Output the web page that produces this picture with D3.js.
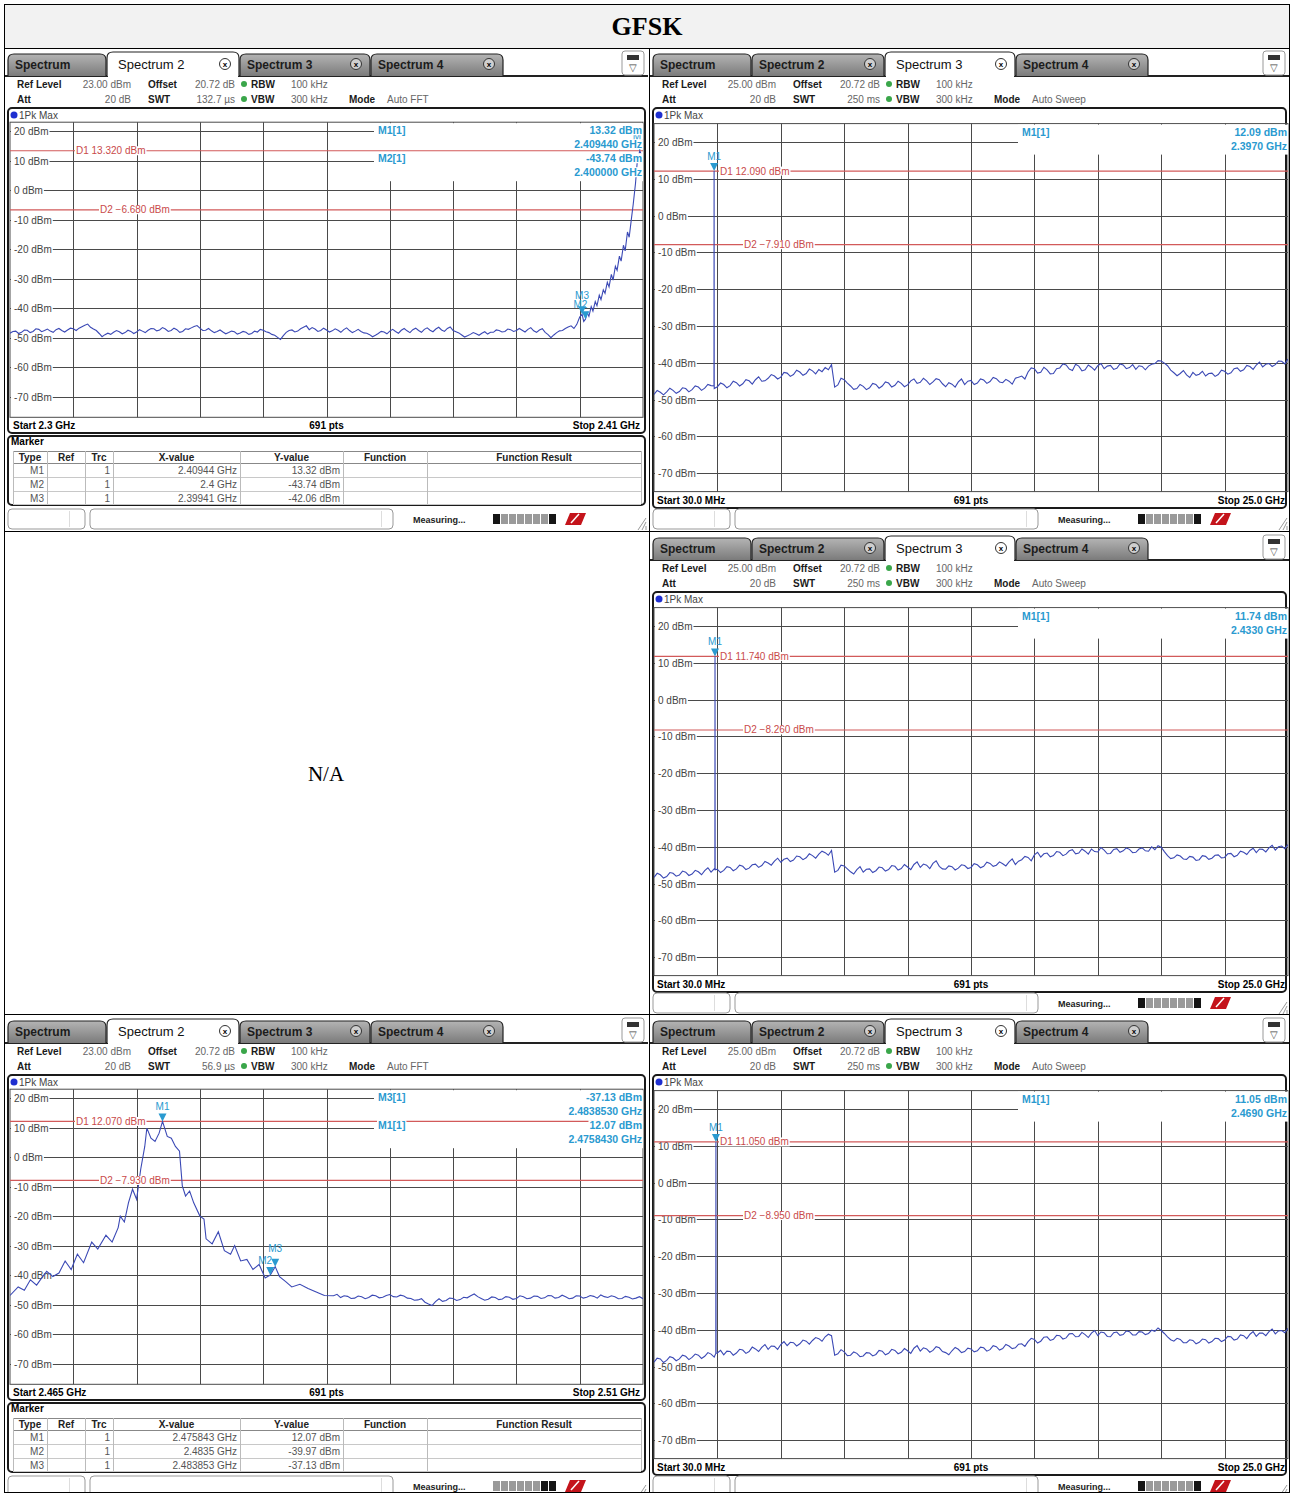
<!DOCTYPE html>
<html>
<head>
<meta charset="utf-8">
<script src="https://cdn.jsdelivr.net/npm/d3@7"></script>
<style>
  body { margin: 0; background: #fff; }
  svg text { font-family: "Liberation Sans", Arial, sans-serif; }
</style>
</head>
<body>
<svg id="chart"></svg>
<script>
// ---------- data ----------
const pageTitle = "GFSK";
const naText = "N/A";
const tabNames = ["Spectrum", "Spectrum 2", "Spectrum 3", "Spectrum 4"];
const yTicks = [20, 10, 0, -10, -20, -30, -40, -50, -60, -70];
const tableCols = ["Type", "Ref", "Trc", "X-value", "Y-value", "Function", "Function Result"];

// low band edge, 2.3 - 2.41 GHz
const lowFloorStart = 2.300, lowFloorStep = 0.0005;
const lowFloor = [-48.5, -47.9, -47.8, -48.6, -48.2, -47.4, -47.5, -48.3, -47.9, -47.0,
  -47.2, -48.0, -47.6, -47.1, -47.8, -48.2, -47.3, -46.9, -47.6, -48.1,
  -47.4, -46.8, -47.0, -47.6, -46.8, -46.3, -45.8, -45.4, -46.5, -47.1,
  -47.6, -48.6, -49.7, -49.0, -48.5, -48.9, -48.2, -47.6, -48.0, -48.7,
  -48.3, -47.5, -47.9, -48.6, -48.1, -47.3, -47.8, -48.3, -47.5, -46.9,
  -47.0, -47.7, -47.4, -46.6, -47.1, -47.9, -47.6, -46.8, -47.3, -48.2,
  -47.9, -47.0, -47.2, -46.7, -46.2, -45.9, -46.8, -47.6, -47.5, -46.9,
  -47.7, -48.3, -47.9, -47.4, -48.1, -48.7, -48.3, -47.8, -48.0, -48.8,
  -48.4, -47.9, -48.2, -48.9, -48.6, -47.8, -48.1, -47.2, -47.5, -48.0,
  -48.3, -48.9, -49.2, -49.9, -50.6, -49.3, -48.2, -47.6, -47.4, -48.1,
  -47.8, -47.0, -46.5, -46.0, -47.3, -46.6, -47.1, -47.9, -47.6, -46.8,
  -47.4, -48.1, -47.7, -47.0, -47.5, -48.2, -47.3, -46.7, -47.6, -48.3,
  -47.8, -47.2, -47.9, -48.4, -48.5, -49.0, -49.7, -49.2, -48.6, -47.9,
  -48.1, -48.7, -47.8, -47.2, -47.9, -48.5, -47.5, -46.9, -47.7, -48.3,
  -47.3, -46.8, -47.6, -48.2, -47.2, -46.7, -47.5, -48.0, -47.1, -46.5,
  -47.4, -47.9, -46.9, -46.4, -47.6, -48.0, -48.4, -49.1, -49.8, -49.4,
  -48.9, -48.3, -48.7, -49.2, -48.5, -48.0, -48.8, -48.2, -48.2, -47.4,
  -47.6, -48.1, -47.9, -47.1, -47.3, -47.9, -47.6, -46.9, -47.5, -48.1,
  -47.2, -46.6, -47.7, -48.2, -47.4, -47.0, -48.2, -49.0, -50.0, -49.1,
  -48.3, -47.7, -47.6, -46.9, -46.4, -46.0, -46.9];
const lowRise = [[2.3985, -45.5], [2.399, -43.0], [2.39941, -42.06], [2.3997, -44.5], [2.400, -43.74],
  [2.4003, -41.5], [2.4006, -42.8], [2.401, -39.5], [2.4013, -41.0], [2.4017, -37.8], [2.402, -39.2],
  [2.4024, -35.6], [2.4027, -37.1], [2.4031, -33.8], [2.4034, -35.0], [2.4038, -31.2], [2.4041, -32.8],
  [2.4045, -28.6], [2.4048, -30.5], [2.4052, -25.8], [2.4055, -27.2], [2.4059, -22.4], [2.4062, -24.1],
  [2.4066, -18.7], [2.4069, -20.6], [2.4073, -14.2], [2.4076, -16.0], [2.408, -9.5], [2.4083, -4.8],
  [2.4087, 2.3], [2.409, 9.6], [2.40944, 13.32], [2.4097, 12.1], [2.41, 10.4]];
const lowMarkers = [["M1", 2.40944, 13.32], ["M2", 2.4, -43.74], ["M3", 2.39941, -42.06]];
const lowInfo = [["M1[1]", "13.32 dBm", "2.409440 GHz"], ["M2[1]", "-43.74 dBm", "2.400000 GHz"]];
const lowTable = [["M1", "", "1", "2.40944 GHz", "13.32 dBm"], ["M2", "", "1", "2.4 GHz", "-43.74 dBm"],
  ["M3", "", "1", "2.39941 GHz", "-42.06 dBm"]];

// high band edge, 2.465 - 2.51 GHz
const highChannel = [[2.46500, -46.9], [2.46558, -44.0], [2.46602, -45.1], [2.46645, -41.6], [2.46689, -43.4],
  [2.46732, -40.5], [2.46761, -38.7], [2.46805, -40.5], [2.46848, -39.3], [2.46892, -35.2], [2.46935, -38.1],
  [2.46979, -32.9], [2.47023, -35.8], [2.47081, -28.8], [2.47124, -31.2], [2.47182, -26.5], [2.47226, -28.8],
  [2.47269, -23.9], [2.47284, -20.0], [2.47313, -22.0], [2.47342, -15.5], [2.47371, -10.9], [2.47400, -14.3],
  [2.47429, -4.2], [2.47458, 3.6], [2.47473, 9.8], [2.47502, 6.4], [2.47531, 5.3], [2.47560, 8.1],
  [2.475843, 12.07], [2.47618, 7.0], [2.47647, 6.4], [2.47676, 3.6], [2.47705, 2.0], [2.47725, -9.8],
  [2.47748, -13.2], [2.47777, -11.5], [2.47806, -15.5], [2.47850, -20.0], [2.47879, -21.0], [2.47894, -27.7],
  [2.47937, -29.4], [2.47981, -25.3], [2.48024, -31.7], [2.48068, -32.9], [2.48097, -30.0], [2.48140, -35.2],
  [2.48184, -34.7], [2.48227, -38.1], [2.48271, -36.4], [2.48314, -41.0], [2.4835, -39.97], [2.483853, -37.13],
  [2.48416, -40.5], [2.48460, -42.2], [2.48503, -44.0], [2.48561, -43.1], [2.48619, -44.5], [2.48677, -45.7],
  [2.48735, -46.9]];
const highFloorStart = 2.488, highFloorStep = 0.00025;
const highFloor = [-47.0, -46.5, -47.6, -47.0, -47.2, -47.9, -47.8, -47.1, -47.3, -48.0,
  -47.6, -46.8, -47.0, -47.7, -47.5, -46.9, -46.6, -47.3, -47.4, -46.8,
  -47.1, -47.8, -47.9, -48.5, -48.4, -48.0, -49.2, -49.8, -50.3, -49.0,
  -48.0, -48.9, -48.6, -47.8, -47.9, -48.6, -48.3, -47.5, -47.7, -47.0,
  -46.4, -47.3, -47.9, -48.5, -48.2, -47.4, -47.6, -48.3, -48.1, -47.3,
  -47.5, -48.2, -47.9, -47.0, -47.3, -48.0, -47.8, -47.1, -47.2, -47.9,
  -47.7, -46.9, -47.0, -47.8, -47.6, -46.8, -47.3, -48.0, -47.8, -47.0,
  -47.1, -47.8, -47.5, -46.9, -47.2, -47.8, -46.7, -47.3, -47.6, -47.0,
  -47.3, -48.0, -47.9, -47.2, -47.5, -48.1, -47.8, -47.3, -48.0];
const highMarkers = [["M1", 2.475843, 12.07], ["M2", 2.4835, -39.97], ["M3", 2.483853, -37.13]];
const highInfo = [["M3[1]", "-37.13 dBm", "2.4838530 GHz"], ["M1[1]", "12.07 dBm", "2.4758430 GHz"]];
const highTable = [["M1", "", "1", "2.475843 GHz", "12.07 dBm"], ["M2", "", "1", "2.4835 GHz", "-39.97 dBm"],
  ["M3", "", "1", "2.483853 GHz", "-37.13 dBm"]];

// spurious sweeps, 30 MHz - 25 GHz, 201 samples each
const sweepStart = 0.03, sweepStep = 0.12485;
const sweepLow = [-48.6, -47.5, -48.0, -48.7, -47.9, -46.9, -47.5, -48.3, -47.8, -46.8,
  -47.0, -47.9, -47.3, -46.3, -46.6, -47.5, -46.9, -45.9, -46.2, -47.0,
  -46.5, -45.5, -45.9, -46.8, -46.2, -45.0, -45.4, -46.3, -45.7, -44.6,
  -44.9, -45.8, -44.6, -43.8, -45.0, -44.9, -44.2, -43.2, -43.6, -44.4,
  -43.9, -42.6, -42.8, -43.7, -43.2, -42.0, -42.5, -43.4, -42.9, -41.7,
  -42.2, -43.0, -41.8, -42.4, -41.3, -41.9, -40.5, -46.6, -46.0, -44.2,
  -44.6, -45.5, -46.3, -47.2, -47.0, -45.9, -46.4, -47.3, -46.8, -45.6,
  -45.9, -46.9, -46.3, -45.2, -45.5, -46.6, -46.1, -45.0, -45.6, -46.5,
  -46.0, -44.9, -44.4, -45.6, -45.3, -44.2, -44.9, -45.9, -45.2, -44.3,
  -44.6, -45.7, -46.5, -45.4, -45.8, -46.6, -45.2, -44.4, -45.9, -45.0,
  -44.8, -45.9, -45.5, -44.4, -44.7, -45.6, -45.1, -44.0, -44.3, -45.2,
  -45.4, -44.5, -45.0, -45.8, -44.2, -43.9, -43.6, -44.4, -42.5, -41.4,
  -41.6, -42.8, -42.6, -41.2, -41.9, -43.0, -42.9, -41.6, -41.4, -40.3,
  -40.6, -41.7, -42.1, -40.4, -40.9, -42.2, -41.9, -40.6, -41.2, -42.0,
  -40.8, -40.2, -41.6, -40.9, -40.7, -41.8, -41.5, -40.3, -40.6, -41.6,
  -41.3, -40.5, -41.8, -40.8, -41.0, -41.9, -40.9, -40.4, -40.2, -39.4,
  -39.5, -40.1, -40.8, -42.0, -42.7, -43.5, -42.9, -42.1, -43.3, -44.0,
  -42.6, -43.4, -43.1, -42.3, -43.6, -42.9, -42.8, -43.7, -43.2, -42.0,
  -42.3, -43.1, -42.7, -41.6, -41.4, -42.3, -41.9, -40.7, -41.0, -41.8,
  -40.6, -39.8, -41.1, -40.4, -40.2, -41.0, -40.5, -39.5, -39.6, -40.3,
  -39.0];
const sweepMid = [-48.3, -47.2, -47.6, -48.5, -48.1, -47.0, -47.2, -48.0, -47.7, -46.6,
  -46.9, -47.8, -47.4, -46.4, -46.8, -47.6, -46.5, -45.7, -46.9, -46.0,
  -46.1, -47.0, -46.4, -45.4, -45.6, -46.5, -46.0, -45.0, -45.3, -46.2,
  -45.8, -44.9, -44.7, -45.6, -45.1, -44.0, -44.4, -45.0, -43.9, -43.1,
  -44.2, -43.4, -43.1, -44.0, -43.6, -42.5, -42.7, -43.5, -43.0, -41.9,
  -42.4, -43.1, -42.0, -41.2, -41.6, -42.3, -41.0, -46.9, -46.4, -45.0,
  -45.2, -46.0, -46.8, -47.4, -46.2, -45.4, -46.9, -46.1, -46.0, -47.0,
  -46.5, -45.5, -45.7, -46.6, -46.2, -45.1, -45.3, -46.3, -45.9, -44.8,
  -45.5, -46.2, -44.8, -44.1, -45.6, -44.7, -45.0, -45.9, -44.5, -43.8,
  -45.3, -46.0, -46.1, -45.2, -45.4, -46.3, -45.8, -44.9, -45.1, -45.9,
  -45.6, -44.6, -44.9, -45.7, -45.3, -44.2, -44.5, -45.3, -45.0, -44.1,
  -44.6, -45.2, -44.1, -43.3, -44.8, -43.9, -43.5, -42.6, -42.9, -43.8,
  -42.2, -41.5, -42.8, -41.9, -41.7, -42.7, -42.4, -41.3, -41.5, -42.4,
  -42.0, -41.1, -40.8, -41.9, -41.7, -40.6, -41.2, -42.0, -40.6, -41.3,
  -41.4, -40.2, -40.9, -41.9, -41.8, -40.7, -40.5, -41.5, -41.1, -40.3,
  -40.7, -41.6, -41.5, -40.6, -40.3, -41.1, -41.2, -40.0, -40.8, -39.7,
  -40.1, -41.3, -42.4, -43.2, -43.0, -42.2, -42.5, -43.3, -43.4, -42.6,
  -42.8, -43.7, -43.5, -42.4, -42.6, -43.4, -43.1, -42.3, -42.2, -43.0,
  -42.9, -41.9, -41.8, -42.7, -42.3, -41.2, -41.5, -42.1, -41.0, -40.4,
  -41.6, -40.6, -40.7, -41.4, -40.3, -39.6, -40.9, -40.0, -39.8, -40.5,
  -39.4];
const sweepHigh = [-48.8, -47.7, -47.9, -48.9, -48.3, -47.3, -47.6, -48.4, -47.9, -46.9,
  -47.2, -48.1, -47.5, -46.6, -46.9, -47.8, -47.2, -46.2, -46.6, -47.4,
  -46.3, -45.6, -46.8, -45.8, -45.9, -46.9, -46.3, -45.3, -45.5, -46.4,
  -45.9, -44.7, -45.2, -45.9, -44.8, -44.0, -45.3, -44.4, -44.5, -45.3,
  -44.0, -43.2, -44.3, -43.4, -43.5, -44.4, -43.8, -42.8, -43.1, -43.9,
  -42.9, -42.1, -42.4, -43.1, -41.9, -41.2, -41.6, -46.9, -46.5, -45.4,
  -46.0, -47.0, -46.9, -46.0, -46.4, -47.3, -47.1, -46.2, -46.3, -47.1,
  -46.7, -45.6, -45.8, -46.8, -46.4, -45.3, -45.6, -46.5, -46.1, -45.1,
  -45.7, -46.4, -45.0, -44.3, -45.8, -44.9, -45.2, -46.1, -45.6, -44.6,
  -44.9, -45.9, -46.2, -46.8, -45.7, -44.8, -45.3, -46.2, -45.9, -45.0,
  -45.2, -46.0, -45.7, -44.7, -44.9, -45.8, -45.4, -44.3, -44.6, -45.5,
  -45.1, -44.0, -44.4, -45.1, -44.9, -43.9, -43.8, -44.5, -43.2, -42.3,
  -42.6, -43.6, -43.1, -42.0, -41.9, -42.9, -42.6, -41.5, -41.6, -42.5,
  -42.2, -41.1, -41.0, -41.9, -41.8, -40.7, -41.3, -42.1, -40.9, -40.2,
  -41.6, -40.6, -40.8, -41.8, -41.9, -40.8, -40.6, -41.5, -41.3, -40.3,
  -40.5, -41.4, -41.4, -40.5, -40.6, -41.3, -41.0, -40.1, -40.4, -39.5,
  -40.2, -41.0, -41.9, -42.7, -43.1, -42.3, -42.6, -43.5, -43.5, -42.7,
  -42.9, -43.8, -43.4, -42.5, -42.7, -43.6, -43.2, -42.3, -42.4, -43.2,
  -42.8, -41.8, -41.9, -42.8, -42.5, -41.4, -41.6, -42.4, -41.2, -40.5,
  -41.8, -40.9, -40.9, -41.6, -40.5, -39.8, -41.1, -40.3, -40.2, -40.8,
  -39.6];
const spikeLow = [[2.392, -46.3], [2.397, 12.09], [2.402, -46.3]];
const spikeMid = [[2.428, -46.2], [2.433, 11.74], [2.438, -46.2]];
const spikeHigh = [[2.464, -46.4], [2.469, 11.05], [2.474, -46.4]];

// ---------- page ----------
const svg = d3.select("#chart").attr("width", 1291).attr("height", 1493);
svg.append("rect").attr("width", 1291).attr("height", 1493).attr("fill", "#fff");

const defs = svg.append("defs");
const grad = defs.append("linearGradient").attr("id", "tabGrad")
  .attr("x1", 0).attr("y1", 0).attr("x2", 0).attr("y2", 1);
grad.append("stop").attr("offset", "0%").attr("stop-color", "#b4b4b4");
grad.append("stop").attr("offset", "100%").attr("stop-color", "#7b7b7b");

// title row
svg.append("rect").attr("x", 4).attr("y", 4).attr("width", 1286).attr("height", 44).attr("fill", "#f2f2f2");
svg.append("text").attr("x", 647).attr("y", 35).attr("text-anchor", "middle")
  .style("font-family", "'Liberation Serif', 'Times New Roman', serif")
  .attr("font-size", 26).attr("font-weight", "bold").text(pageTitle);

// white box behind a text so lines stop at it
function boxed(sel, padL) {
  const node = sel.node();
  const bb = node.getBBox();
  const left = padL === undefined ? bb.x - 1 : padL;
  d3.select(node.parentNode).insert("rect", function () { return node; })
    .attr("x", left).attr("y", bb.y + 1).attr("width", bb.x + bb.width + 1 - left)
    .attr("height", bb.height - 2).attr("fill", "#fff");
  return sel;
}

function drawPanel(px, py, cfg) {
  const wide = cfg.wide;
  const pw = wide ? 639 : 643;
  const g = svg.append("g").attr("transform", "translate(" + px + "," + py + ")");

  // tab bar
  const tabX = [3, 102, 235, 366, 499];
  g.append("line").attr("x1", 0).attr("x2", pw).attr("y1", 28).attr("y2", 28)
    .attr("stroke", "#222").attr("stroke-width", 2);
  tabNames.forEach(function (name, i) {
    const x0 = tabX[i], x1 = tabX[i + 1] - 1, act = i === cfg.activeTab;
    const top = act ? 4 : 6, r = 6;
    g.append("path")
      .attr("d", "M" + x0 + ",28 L" + x0 + "," + (top + r) + " Q" + x0 + "," + top + " " + (x0 + r) + "," + top +
        " L" + (x1 - r) + "," + top + " Q" + x1 + "," + top + " " + x1 + "," + (top + r) + " L" + x1 + ",28")
      .attr("fill", act ? "#fff" : "url(#tabGrad)").attr("stroke", "#222").attr("stroke-width", 1.2);
    if (act) {
      g.append("line").attr("x1", x0 + 1).attr("x2", x1 - 1).attr("y1", 28).attr("y2", 28)
        .attr("stroke", "#fff").attr("stroke-width", 2.5);
    }
    g.append("text").attr("x", x0 + (act ? 11 : 7)).attr("y", 21)
      .attr("font-size", act ? 13 : 12).attr("font-weight", act ? "normal" : "bold")
      .attr("fill", act ? "#111" : "#1c1c1c").text(name);
    if (i > 0) {
      g.append("circle").attr("cx", x1 - 14).attr("cy", 16).attr("r", 5.5)
        .attr("fill", act ? "#fff" : "#cfcfcf").attr("stroke", "#333").attr("stroke-width", 1);
      g.append("text").attr("x", x1 - 14).attr("y", 19).attr("text-anchor", "middle")
        .attr("font-size", 8).attr("font-weight", "bold").text("x");
    }
  });
  // corner icon
  g.append("rect").attr("x", pw - 26).attr("y", 3).attr("width", 22).attr("height", 24).attr("rx", 3)
    .attr("fill", "#fff").attr("stroke", "#999");
  g.append("rect").attr("x", pw - 21).attr("y", 7).attr("width", 12).attr("height", 5).attr("fill", "#333");
  g.append("text").attr("x", pw - 15).attr("y", 23).attr("text-anchor", "middle")
    .attr("font-size", 10).attr("fill", "#444").text("▽");

  // setting lines
  const hdr = [
    ["Ref Level", 12, 40, true, "start"], [cfg.ref, 126, 40, false, "end"], ["Offset", 143, 40, true, "start"],
    ["20.72 dB", 230, 40, false, "end"], ["RBW", 246, 40, true, "start"], ["100 kHz", 286, 40, false, "start"],
    ["Att", 12, 55, true, "start"], ["20 dB", 126, 55, false, "end"], ["SWT", 143, 55, true, "start"],
    [cfg.swt, 230, 55, false, "end"], ["VBW", 246, 55, true, "start"], ["300 kHz", 286, 55, false, "start"],
    ["Mode", 344, 55, true, "start"], [cfg.mode, 382, 55, false, "start"]
  ];
  hdr.forEach(function (h) {
    g.append("text").attr("x", h[1]).attr("y", h[2]).attr("text-anchor", h[4])
      .attr("font-size", 10).attr("font-weight", h[3] ? "bold" : "normal")
      .attr("fill", h[3] ? "#1a1a1a" : "#666").text(h[0]);
  });
  [37, 52].forEach(function (cy) {
    g.append("circle").attr("cx", 239).attr("cy", cy - 1).attr("r", 3).attr("fill", "#3aa64a");
  });

  // diagram frame
  const frameH = wide ? 400 : 325;
  g.append("rect").attr("x", 3).attr("y", 60).attr("width", pw - 6).attr("height", frameH).attr("rx", 4)
    .attr("fill", "#fff").attr("stroke", "#1a1a1a").attr("stroke-width", 2);
  g.append("circle").attr("cx", 9).attr("cy", 67).attr("r", 3.5).attr("fill", "#1f2fd0");
  g.append("text").attr("x", 14).attr("y", 71).attr("font-size", 10).attr("fill", "#444").text("1Pk Max");

  const gx0 = wide ? 4 : 5, gx1 = 638;
  const gy0 = wide ? 75.6 : 74.2, gy1 = wide ? 443.6 : 369.3;
  const x = d3.scaleLinear().domain([cfg.start, cfg.stop]).range([gx0, gx1]);
  const y = d3.scaleLinear().domain([cfg.refLevel - 100, cfg.refLevel]).range([gy1, gy0]);

  // grid
  const grid = g.append("g").attr("stroke", "#4a4a4a").attr("stroke-width", 1);
  d3.range(1, 10).forEach(function (k) {
    const xv = Math.round(x(cfg.start + k * (cfg.stop - cfg.start) / 10)) + 0.5;
    grid.append("line").attr("x1", xv).attr("x2", xv).attr("y1", gy0).attr("y2", gy1);
  });
  yTicks.forEach(function (t) {
    const yv = Math.round(y(t)) + 0.5;
    grid.append("line").attr("x1", gx0).attr("x2", gx1).attr("y1", yv).attr("y2", yv);
  });
  grid.append("rect").attr("x", gx0).attr("y", gy0).attr("width", gx1 - gx0).attr("height", gy1 - gy0)
    .attr("fill", "none");

  // marker readout area hides the grid
  const infoLines = cfg.info.length * 2;
  g.append("rect").attr("x", gx0 + 364).attr("y", gy0 + 1).attr("width", gx1 - gx0 - 364)
    .attr("height", infoLines * 14 + 2).attr("fill", "#fff");

  // tick labels
  const tl = g.append("g");
  yTicks.forEach(function (t) {
    boxed(tl.append("text").attr("x", gx0 + 4).attr("y", Math.round(y(t)) + 4).attr("font-size", 10)
      .attr("fill", "#444").text(t + " dBm"), gx0 + 1);
  });

  // display lines
  cfg.dlines.forEach(function (v) {
    const yv = y(v);
    g.append("line").attr("x1", gx0).attr("x2", gx1).attr("y1", yv).attr("y2", yv)
      .attr("stroke", "#d25a5a").attr("stroke-width", 1.2);
  });

  // trace
  const clipId = "clip" + cfg.id;
  defs.append("clipPath").attr("id", clipId).append("rect")
    .attr("x", gx0).attr("y", gy0).attr("width", gx1 - gx0).attr("height", gy1 - gy0);
  const line = d3.line().x(function (d) { return x(d[0]); }).y(function (d) { return y(d[1]); });
  g.append("path").datum(cfg.trace).attr("clip-path", "url(#" + clipId + ")")
    .attr("d", line).attr("fill", "none").attr("stroke", "#3b49b5").attr("stroke-width", 1.1);

  // display line labels
  const dl = g.append("g");
  cfg.dlines.forEach(function (v, i) {
    boxed(dl.append("text").attr("x", gx0 + (i === 0 ? 66 : 90)).attr("y", y(v) + 3.5)
      .attr("font-size", 10).attr("fill", "#c94a4a").text("D" + (i + 1) + " " + d3.format(".3f")(v) + " dBm"));
  });

  // markers
  const mg = g.append("g").attr("clip-path", "url(#" + clipId + ")");
  cfg.markers.forEach(function (m) {
    const mx = x(m[1]), my = y(m[2]);
    const shift = m[0] === "M2" ? -5 : 0;
    mg.append("path").attr("d", "M" + (mx - 4) + "," + (my - 8) + " L" + (mx + 4) + "," + (my - 8) + " L" + mx + "," + my + " Z")
      .attr("fill", "#2a9ad0");
    mg.append("text").attr("x", mx + shift).attr("y", my - 11 - (m[0] === "M3" ? 4 : 0)).attr("text-anchor", "middle")
      .attr("font-size", 10).attr("fill", "#2a9ad0").text(m[0]);
  });

  // marker readout
  const ig = g.append("g");
  cfg.info.forEach(function (row, i) {
    const by = gy0 + 12 + i * 28;
    boxed(ig.append("text").attr("x", gx0 + 368).attr("y", by).attr("font-size", 10.5)
      .attr("font-weight", "bold").attr("fill", "#2a9ad0").text(row[0]));
    boxed(ig.append("text").attr("x", gx1 - 1).attr("y", by).attr("text-anchor", "end").attr("font-size", 10.5)
      .attr("font-weight", "bold").attr("fill", "#2a9ad0").text(row[1]));
    boxed(ig.append("text").attr("x", gx1 - 1).attr("y", by + 14).attr("text-anchor", "end").attr("font-size", 10.5)
      .attr("font-weight", "bold").attr("fill", "#2a9ad0").text(row[2]));
  });

  // footer of diagram
  const fy = gy1 + 12;
  g.append("text").attr("x", gx0 + 3).attr("y", fy).attr("font-size", 10).attr("font-weight", "bold").text(cfg.startLabel);
  g.append("text").attr("x", (gx0 + gx1) / 2).attr("y", fy).attr("text-anchor", "middle").attr("font-size", 10)
    .attr("font-weight", "bold").text("691 pts");
  g.append("text").attr("x", gx1 - 3).attr("y", fy).attr("text-anchor", "end").attr("font-size", 10)
    .attr("font-weight", "bold").text(cfg.stopLabel);

  // marker table
  if (cfg.table) {
    g.append("rect").attr("x", 3).attr("y", 388).attr("width", pw - 6).attr("height", 69).attr("rx", 4)
      .attr("fill", "#fff").attr("stroke", "#1a1a1a").attr("stroke-width", 2);
    g.append("text").attr("x", 6).attr("y", 397).attr("font-size", 10).attr("font-weight", "bold").text("Marker");
    const cx = [8, 42, 80, 108, 235, 338, 422, 636];
    const rowY = [403, 415, 429, 443, 456];
    rowY.forEach(function (ry, i) {
      g.append("line").attr("x1", cx[0]).attr("x2", cx[7]).attr("y1", ry + 0.5).attr("y2", ry + 0.5)
        .attr("stroke", i < 2 ? "#888" : "#c8c8c8");
    });
    cx.forEach(function (c) {
      g.append("line").attr("x1", c + 0.5).attr("x2", c + 0.5).attr("y1", 403).attr("y2", 456).attr("stroke", "#bbb");
    });
    tableCols.forEach(function (name, i) {
      g.append("text").attr("x", (cx[i] + cx[i + 1]) / 2).attr("y", 413).attr("text-anchor", "middle")
        .attr("font-size", 10).attr("font-weight", "bold").attr("fill", "#222").text(name);
    });
    cfg.table.forEach(function (row, r) {
      row.forEach(function (cell, c) {
        g.append("text").attr("x", cx[c + 1] - 3).attr("y", rowY[r + 1] + 11).attr("text-anchor", "end")
          .attr("font-size", 10).attr("fill", "#555").text(cell);
      });
    });
  }

  // status bar
  g.append("rect").attr("x", 3).attr("y", 461).attr("width", 77).attr("height", 20).attr("rx", 4)
    .attr("fill", "#fff").attr("stroke", "#999");
  g.append("rect").attr("x", 85).attr("y", 461).attr("width", 303).attr("height", 20).attr("rx", 4)
    .attr("fill", "#fff").attr("stroke", "#999");
  g.append("line").attr("x1", 64.5).attr("x2", 64.5).attr("y1", 463).attr("y2", 479).attr("stroke", "#ddd");
  g.append("line").attr("x1", 376.5).attr("x2", 376.5).attr("y1", 463).attr("y2", 479).attr("stroke", "#ddd");
  g.append("text").attr("x", 408).attr("y", 475).attr("font-size", 9).attr("font-weight", "bold")
    .attr("fill", "#222").text("Measuring...");
  d3.range(8).forEach(function (k) {
    g.append("rect").attr("x", 488 + k * 8).attr("y", 466).attr("width", 7).attr("height", 10)
      .attr("fill", cfg.busy.indexOf(k) >= 0 ? "#151515" : "#9a9a9a");
  });
  g.append("path").attr("d", "M560,477 L565,465 L581,465 L576,477 Z").attr("fill", "#c4141b");
  g.append("line").attr("x1", 566).attr("y1", 475).attr("x2", 574).attr("y2", 466).attr("stroke", "#fff").attr("stroke-width", 1.5);
  [0, 4, 8].forEach(function (o) {
    g.append("line").attr("x1", pw - 2 - o).attr("y1", 482).attr("x2", pw - 2).attr("y2", 482 - o - 4)
      .attr("stroke", "#999");
  });
}

function sampled(start, step, vals) {
  return vals.map(function (v, i) { return [start + i * step, v]; });
}
function byFreq(a, b) { return a[0] - b[0]; }

// top left
drawPanel(5, 48, {
  id: "tl", wide: false, activeTab: 1, ref: "23.00 dBm", swt: "132.7 µs", mode: "Auto FFT",
  refLevel: 23, start: 2.3, stop: 2.41, startLabel: "Start 2.3 GHz", stopLabel: "Stop 2.41 GHz",
  trace: sampled(lowFloorStart, lowFloorStep, lowFloor).concat(lowRise).sort(byFreq),
  dlines: [13.32, -6.68], markers: lowMarkers, info: lowInfo, table: lowTable, busy: [0, 7]
});
// top right
drawPanel(650, 48, {
  id: "tr", wide: true, activeTab: 2, ref: "25.00 dBm", swt: "250 ms", mode: "Auto Sweep",
  refLevel: 25, start: 0.03, stop: 25.0, startLabel: "Start 30.0 MHz", stopLabel: "Stop 25.0 GHz",
  trace: sampled(sweepStart, sweepStep, sweepLow).concat(spikeLow).sort(byFreq),
  dlines: [12.09, -7.91], markers: [["M1", 2.397, 12.09]],
  info: [["M1[1]", "12.09 dBm", "2.3970 GHz"]], table: null, busy: [0, 7]
});
// middle right
drawPanel(650, 532, {
  id: "mr", wide: true, activeTab: 2, ref: "25.00 dBm", swt: "250 ms", mode: "Auto Sweep",
  refLevel: 25, start: 0.03, stop: 25.0, startLabel: "Start 30.0 MHz", stopLabel: "Stop 25.0 GHz",
  trace: sampled(sweepStart, sweepStep, sweepMid).concat(spikeMid).sort(byFreq),
  dlines: [11.74, -8.26], markers: [["M1", 2.433, 11.74]],
  info: [["M1[1]", "11.74 dBm", "2.4330 GHz"]], table: null, busy: [0, 7]
});
// bottom left
drawPanel(5, 1015, {
  id: "bl", wide: false, activeTab: 1, ref: "23.00 dBm", swt: "56.9 µs", mode: "Auto FFT",
  refLevel: 23, start: 2.465, stop: 2.51, startLabel: "Start 2.465 GHz", stopLabel: "Stop 2.51 GHz",
  trace: highChannel.concat(sampled(highFloorStart, highFloorStep, highFloor)).sort(byFreq),
  dlines: [12.07, -7.93], markers: highMarkers, info: highInfo, table: highTable, busy: [6, 7]
});
// bottom right
drawPanel(650, 1015, {
  id: "br", wide: true, activeTab: 2, ref: "25.00 dBm", swt: "250 ms", mode: "Auto Sweep",
  refLevel: 25, start: 0.03, stop: 25.0, startLabel: "Start 30.0 MHz", stopLabel: "Stop 25.0 GHz",
  trace: sampled(sweepStart, sweepStep, sweepHigh).concat(spikeHigh).sort(byFreq),
  dlines: [11.05, -8.95], markers: [["M1", 2.469, 11.05]],
  info: [["M1[1]", "11.05 dBm", "2.4690 GHz"]], table: null, busy: [0, 7]
});

// N/A cell
svg.append("text").attr("x", 326).attr("y", 781).attr("text-anchor", "middle")
  .style("font-family", "'Liberation Serif', 'Times New Roman', serif").attr("font-size", 21).text(naText);

// table rules
const rules = svg.append("g").attr("stroke", "#000").attr("stroke-width", 1).attr("fill", "none");
rules.append("rect").attr("x", 4.5).attr("y", 4.5).attr("width", 1285).attr("height", 1488);
rules.append("line").attr("x1", 4.5).attr("x2", 1289.5).attr("y1", 48.5).attr("y2", 48.5);
rules.append("line").attr("x1", 4.5).attr("x2", 1289.5).attr("y1", 531.5).attr("y2", 531.5);
rules.append("line").attr("x1", 4.5).attr("x2", 1289.5).attr("y1", 1014.5).attr("y2", 1014.5);
rules.append("line").attr("x1", 649.5).attr("x2", 649.5).attr("y1", 48.5).attr("y2", 1492.5);
</script>
</body>
</html>
